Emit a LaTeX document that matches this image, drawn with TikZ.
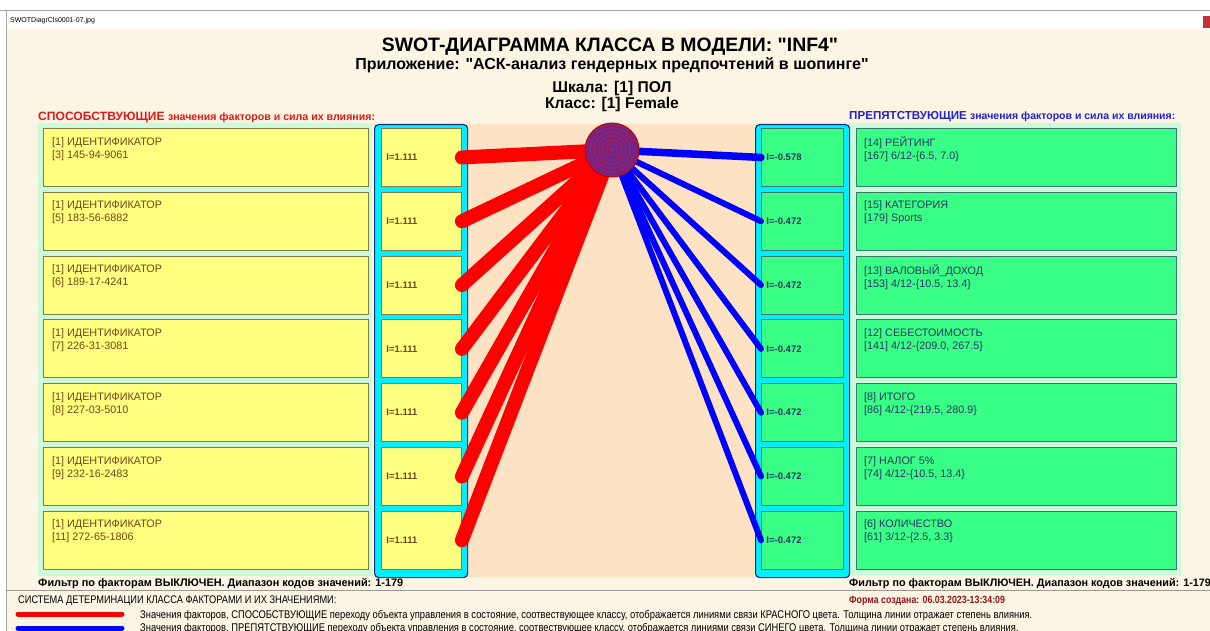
\documentclass[tikz,border=0pt]{standalone}
\usepackage{fontspec}
\setmainfont{Liberation Sans}
\newfontfamily\plainfont{Liberation Sans}
\newfontfamily\narrowfont[FakeStretch=0.84]{Liberation Sans}
\usetikzlibrary{positioning}
\definecolor{bgcream}{RGB}{252,245,228}
\definecolor{mintpanel}{RGB}{204,250,218}
\definecolor{peach}{RGB}{253,226,196}
\definecolor{boxyellow}{RGB}{255,255,128}
\definecolor{boxgreen}{RGB}{58,255,134}
\definecolor{yellowedge}{RGB}{130,125,70}
\definecolor{greenedge}{RGB}{60,120,110}
\definecolor{colcyan}{RGB}{0,238,255}
\definecolor{colnavy}{RGB}{20,50,130}
\definecolor{txtbrown}{RGB}{118,70,20}
\definecolor{txtnavy}{RGB}{35,55,100}
\definecolor{headred}{RGB}{225,25,25}
\definecolor{headblue}{RGB}{35,35,205}
\definecolor{linkred}{RGB}{255,0,0}
\definecolor{linkblue}{RGB}{0,0,255}
\definecolor{hubpurple}{RGB}{115,40,140}
\definecolor{darkred}{RGB}{140,25,25}
\tikzset{
  panel/.style={rectangle, anchor=north west, inner sep=0pt, fill=mintpanel},
  column/.style={rectangle, anchor=north west, inner sep=0pt, fill=colcyan,
    draw=colnavy, line width=1.2pt, rounded corners=4pt},
  plusbox/.style={rectangle, anchor=north west, inner sep=0pt, minimum width=325pt,
    minimum height=58pt, fill=boxyellow, draw=yellowedge, line width=0.9pt},
  minusbox/.style={rectangle, anchor=north west, inner sep=0pt, minimum width=320pt,
    minimum height=58pt, fill=boxgreen, draw=greenedge, line width=0.9pt},
  plusval/.style={rectangle, anchor=north west, inner xsep=5pt, inner ysep=0pt,
    text width=70pt, align=left, minimum height=58pt, fill=boxyellow, draw=yellowedge,
    line width=0.9pt, font=\fontsize{9.5}{11}\selectfont\bfseries, text=txtbrown},
  minusval/.style={plusval, text width=72pt, fill=boxgreen, draw=greenedge, text=txtnavy},
  boxtext/.style={anchor=north west, inner sep=0pt, align=left,
    font=\fontsize{10.8}{13}\selectfont},
  heading/.style={anchor=base, inner sep=0pt},
  footnote/.style={anchor=base west, inner sep=0pt},
  redlink/.style={line width=14pt, color=linkred, line cap=round},
  bluelink/.style={color=linkblue, line cap=round},
  legendline/.style={line width=5pt, line cap=round}
}

\begin{document}
\begin{tikzpicture}[x=1pt, y=-1pt]
  \useasboundingbox (0,0) rectangle (1210,631);
  % Window
  \fill[white] (0,0) rectangle (1210,631);
  \fill[bgcream] (6,30) rectangle (1210,631);
  \draw[gray!70, line width=0.8pt] (0,10) -- (1210,10);
  \draw[gray!70, line width=0.8pt] (6,10) -- (6,631);
  \fill[red!70!black!80] (1203,16) rectangle (1210,28);
  \node[anchor=base west, inner sep=0pt, font=\fontsize{7}{9}\selectfont] (wintitle) at (10,23) {SWOTDiagrCls0001-07.jpg};

  % Titles
  \node[heading, font=\plainfont\bfseries\fontsize{19.4}{21}\selectfont] (title) at (610,52) {SWOT-ДИАГРАММА КЛАССА В МОДЕЛИ: "INF4"};
  \node[heading, font=\plainfont\bfseries\fontsize{16}{18}\selectfont] (app) at (612,70) {Приложение: "АСК-анализ гендерных предпочтений в шопинге"};
  \node[heading, font=\plainfont\bfseries\fontsize{15.6}{18}\selectfont] (scale) at (612,93) {Шкала: [1] ПОЛ};
  \node[heading, font=\plainfont\bfseries\fontsize{15.6}{18}\selectfont] (class) at (612,109) {Класс: [1] Female};
  \node[anchor=base west, inner sep=0pt, text=headred, font=\bfseries] (plushead) at (38,121)
    {\fontsize{12.1}{13}\selectfont СПОСОБСТВУЮЩИЕ \fontsize{10.6}{12}\selectfont значения факторов и сила их влияния:};
  \node[anchor=base west, inner sep=0pt, text=headblue, font=\bfseries] (minushead) at (849,120)
    {\fontsize{11.6}{13}\selectfont ПРЕПЯТСТВУЮЩИЕ \fontsize{10.5}{12}\selectfont значения факторов и сила их влияния:};

  % Panels and columns
  \node[panel, minimum width=334pt, minimum height=453pt] (leftpanel) at (38,123) {};
  \node[panel, minimum width=332pt, minimum height=453pt] (rightpanel) at (849,123) {};
  \node[panel, fill=peach, minimum width=290pt, minimum height=453pt] (middle) at (466,124) {};
  \node[column, minimum width=93pt, minimum height=453pt] (leftcol) at (374,124) {};
  \node[column, minimum width=94pt, minimum height=453pt] (rightcol) at (755,124) {};

  % Supporting factor values
  \foreach \i/\code in {1/{[3] 145-94-9061}, 2/{[5] 183-56-6882}, 3/{[6] 189-17-4241},
      4/{[7] 226-31-3081}, 5/{[8] 227-03-5010}, 6/{[9] 232-16-2483}, 7/{[11] 272-65-1806}} {
    \pgfmathsetmacro\top{128+(\i-1)*63.8}
    \node[plusbox] (l\i) at (43,\top) {};
    \node[boxtext, text=txtbrown] (lt\i) at ([xshift=9pt, yshift=-9pt]l\i.north west) {[1] ИДЕНТИФИКАТОР\\\code};
    \node[plusval] (v\i) at (381,\top) {I=1.111};
  }

  % Hindering factor values
  \foreach \i/\name/\code/\val in {1/{[14] РЕЙТИНГ}/{[167] 6/12-\{6.5, 7.0\}}/{-0.578},
      2/{[15] КАТЕГОРИЯ}/{[179] Sports}/{-0.472},
      3/{[13] ВАЛОВЫЙ\_ДОХОД}/{[153] 4/12-\{10.5, 13.4\}}/{-0.472},
      4/{[12] СЕБЕСТОИМОСТЬ}/{[141] 4/12-\{209.0, 267.5\}}/{-0.472},
      5/{[8] ИТОГО}/{[86] 4/12-\{219.5, 280.9\}}/{-0.472},
      6/{[7] НАЛОГ 5\%}/{[74] 4/12-\{10.5, 13.4\}}/{-0.472},
      7/{[6] КОЛИЧЕСТВО}/{[61] 3/12-\{2.5, 3.3\}}/{-0.472}} {
    \pgfmathsetmacro\top{128+(\i-1)*63.8}
    \node[minusbox] (r\i) at (856,\top) {};
    \node[boxtext, text=txtnavy] (rt\i) at ([xshift=8pt, yshift=-9pt]r\i.north west) {\name\\\code};
    \node[minusval] (w\i) at (761,\top) {I=\val};
  }

  % Links to the class
  \coordinate (hub) at (612,150);
  \foreach \i in {1,...,7}
    \draw[redlink] (hub) -- (v\i.east);
  \foreach \i/\w in {1/7.5, 2/6, 3/6, 4/6, 5/6, 6/6, 7/6}
    \draw[bluelink, line width=\w pt] (hub) -- (w\i.west);
  \node[circle, fill=hubpurple, draw=red!75!black, line width=1pt, minimum size=54pt, inner sep=0pt] (cls) at (hub) {};
  \foreach \r in {4,8,...,24}
    \draw[red!80!black, line width=0.6pt, opacity=0.7] (cls.center) circle (\r pt);

  % Footer
  \node[anchor=base west, inner sep=0pt, font=\fontsize{10.9}{12}\selectfont\bfseries] (filterl) at (38,586) {Фильтр по факторам ВЫКЛЮЧЕН. Диапазон кодов значений: 1-179};
  \node[anchor=base west, inner sep=0pt, font=\fontsize{10.8}{12}\selectfont\bfseries] (filterr) at (849,586) {Фильтр по факторам ВЫКЛЮЧЕН. Диапазон кодов значений: 1-179};
  \draw[gray!80, line width=0.8pt] (6,590) -- (1210,590);
  \node[footnote, font=\narrowfont\fontsize{11}{12}\selectfont] (system) at (18,603) {СИСТЕМА ДЕТЕРМИНАЦИИ КЛАССА ФАКТОРАМИ И ИХ ЗНАЧЕНИЯМИ:};
  \node[footnote, text=darkred, font=\narrowfont\bfseries\fontsize{10.5}{12}\selectfont] (created) at (849,603) {Форма создана: 06.03.2023-13:34:09};
  \coordinate (redstart) at (18,614);
  \coordinate (redend) at (122,614);
  \coordinate (bluestart) at (18,628);
  \coordinate (blueend) at (122,628);
  \node[footnote, font=\narrowfont\fontsize{11.15}{12}\selectfont] (redtext) at (140,618) {Значения факторов, СПОСОБСТВУЮЩИЕ переходу объекта управления в состояние, соотвествующее классу, отображается линиями связи КРАСНОГО цвета. Толщина линии отражает степень влияния.};
  \node[footnote, font=\narrowfont\fontsize{11.15}{12}\selectfont] (bluetext) at (140,631) {Значения факторов, ПРЕПЯТСТВУЮЩИЕ переходу объекта управления в состояние, соотвествующее классу, отображается линиями связи СИНЕГО цвета. Толщина линии отражает степень влияния.};
  \draw[legendline, linkred] (redstart) -- (redend);
  \draw[legendline, linkblue] (bluestart) -- (blueend);
\end{tikzpicture}
\end{document}
